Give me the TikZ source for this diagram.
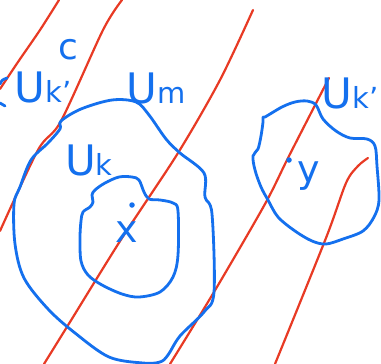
\documentclass[tikz,border=0pt]{standalone}
\usepackage{fontspec}
\setmainfont{DejaVu Sans}
\definecolor{penblue}{RGB}{20,112,238}
\definecolor{penred}{RGB}{232,58,36}
\tikzset{
  blueline/.style={draw=penblue, line width=2.8pt, line cap=round, line join=round},
  redline/.style={draw=penred, line width=2.2pt, line cap=round},
  lbl/.style={text=penblue, inner sep=0pt, font=\fontsize{42}{42}\selectfont},
  dotmark/.style={circle, fill=penblue, inner sep=0pt, minimum size=5.5pt},
}
\newcommand{\Ulab}[1]{U{\fontsize{29}{29}\selectfont #1}}
\begin{document}
\begin{tikzpicture}[x=1pt,y=-1pt]
\useasboundingbox (0,0) rectangle (381,364);
\fill[white] (0,0) rectangle (381,364);
% red lines
\draw[redline] plot[smooth] coordinates {(59,0) (40,30) (18,62) (0,89)};
\draw[redline] plot[smooth] coordinates {(122,0) (103,30) (61,121) (38,150) (0,231)};
\draw[redline] plot[smooth] coordinates {(253,10) (220,80) (178,153) (122,238) (70,322) (44,364)};
\draw[redline] plot[smooth] coordinates {(329,78) (289,156) (265,204) (214,292) (170,364)};
\draw[redline] plot[smooth] coordinates {(368,158) (358,166) (346,183) (326,238) (275,364)};
% blue curves
\draw[blueline] plot[smooth cycle, tension=0.55] coordinates {(61,121) (81,109) (112,100) (136,102) (149,115) (166,139) (180,153) (204,173) (205,197) (212,214) (214,292) (204,312) (180,336) (168,355) (160,362) (143,363) (109,357) (75,333) (48,309) (24,278) (15,244) (14,204) (20,187) (31,160) (48,143) (60,129)};
\draw[blueline] plot[smooth cycle, tension=0.55] coordinates {(92,195) (93,202) (90,207) (83,212) (81,221) (80,238) (81,261) (88,275) (102,285) (122,294) (139,297) (160,292) (173,277) (178,255) (178,211) (173,203) (160,200) (149,199) (144,192) (139,180) (132,177) (119,177) (105,183) (95,190)};
\draw[blueline] plot[smooth cycle, tension=0.55] coordinates {(263,117) (263,122) (261,136) (258,149) (253,156) (255,170) (261,187) (268,200) (278,217) (295,231) (312,241) (326,244) (343,239) (363,231) (374,217) (379,200) (377,166) (375,146) (367,139) (350,138) (336,131) (323,119) (316,105) (307,101) (295,102) (282,107) (265,117)};
% left partial symbol
\draw[blueline] (7,78) .. controls (2,80) .. (0,84);
\draw[blueline] (0,103) -- (5,106);
% dots
\node[dotmark] (dx) at (132,205) {};
\node[dotmark] (dy) at (289,160) {};
% labels
\node[lbl, font=\fontsize{36}{36}\selectfont] (c) at (68,50) {c};
\node[lbl] (ukl) at (43,87) {\Ulab{k'}};
\node[lbl] (um) at (156,88) {\Ulab{m}};
\node[lbl] (uk) at (89,160) {\Ulab{k}};
\node[lbl] (ukr) at (350,93) {\Ulab{k'}};
\node[lbl, font=\fontsize{38}{38}\selectfont] (x) at (127,232) {x};
\node[lbl, font=\fontsize{38}{38}\selectfont] (y) at (309,176) {y};
\end{tikzpicture}
\end{document}
